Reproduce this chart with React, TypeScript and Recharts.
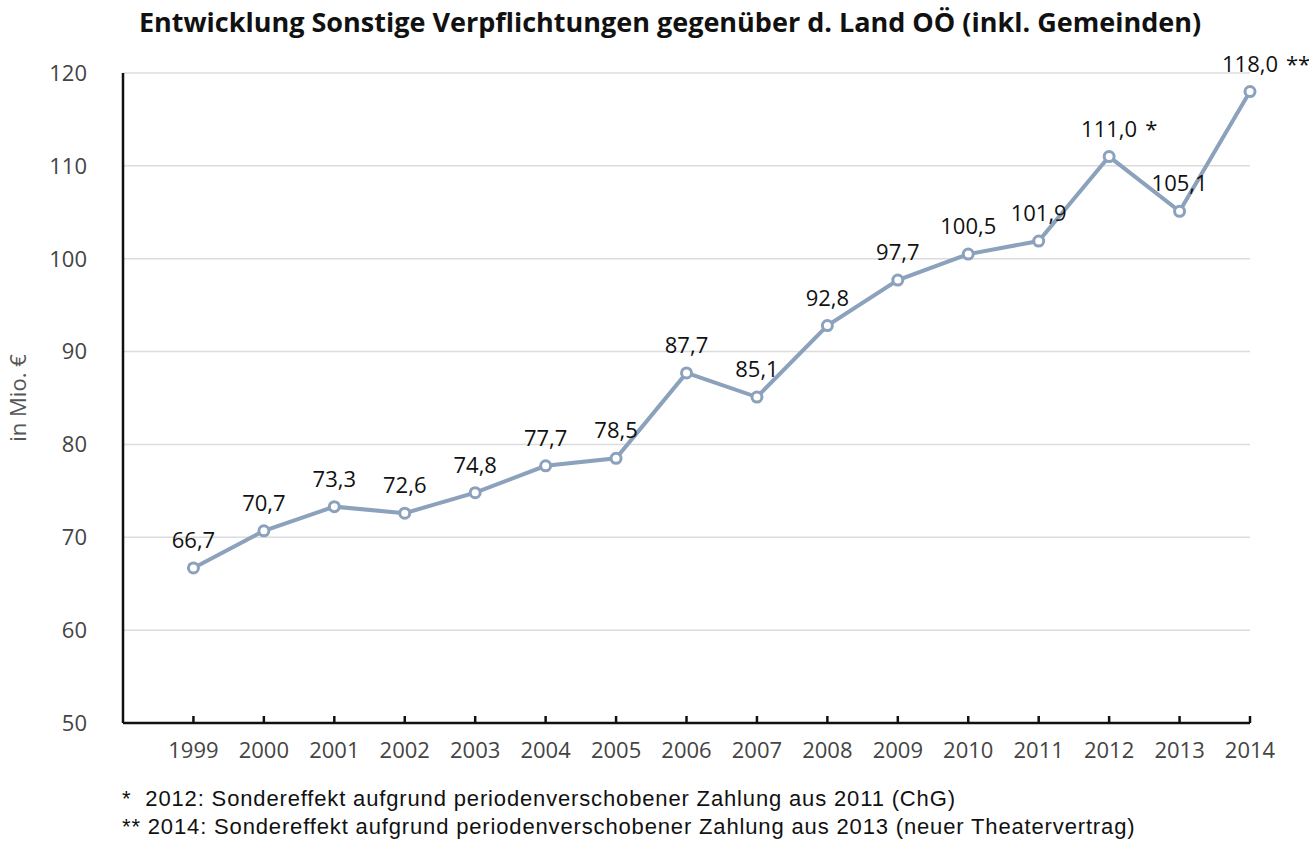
import { LineChart, Line, XAxis, YAxis, CartesianGrid, LabelList } from "recharts";

const years = [1999, 2000, 2001, 2002, 2003, 2004, 2005, 2006, 2007, 2008, 2009, 2010, 2011, 2012, 2013, 2014];
const values = [66.7, 70.7, 73.3, 72.6, 74.8, 77.7, 78.5, 87.7, 85.1, 92.8, 97.7, 100.5, 101.9, 111.0, 105.1, 118.0];
const marks = ["", "", "", "", "", "", "", "", "", "", "", "", "", "*", "", "**"];
const yTicks = [50, 60, 70, 80, 90, 100, 110, 120];

const data = years.map((year, i) => ({ year, value: values[i], mark: marks[i] }));

const lineColor = "#8ba1bc";
const font = "'Open Sans', 'Noto Sans', sans-serif";

function XTick(props: any) {
  const { x, y, payload } = props;
  return (
    <g>
      <line x1={x} x2={x} y1={y - 7} y2={y} stroke="#111" strokeWidth={2.5} />
      <text x={x} y={y + 35} textAnchor="middle" fontSize={22} fill="#444" fontFamily={font}>
        {payload.value}
      </text>
    </g>
  );
}

function ValueLabel(props: any) {
  const { x, y, value, index } = props;
  const mark = marks[index];
  const txt = value.toFixed(1).replace(".", ",");
  return (
    <g>
      <text x={x} y={y - 20} textAnchor="middle" fontSize={22} fill="#111" fontFamily={font}>
        {txt}
      </text>
      {mark && (
        <text x={x + 36} y={y - 20} textAnchor="start" fontSize={22} fill="#111" fontFamily={font}>
          {mark}
        </text>
      )}
    </g>
  );
}

export default function App() {
  return (
    <div style={{ position: "absolute", left: 0, top: 0, width: 1309, height: 841, background: "#fff" }}>
      <div
        style={{
          position: "absolute",
          left: 0,
          top: 3,
          width: 1340,
          textAlign: "center",
          fontFamily: font,
          fontWeight: 700,
          fontSize: 27,
          color: "#111",
        }}
      >
        Entwicklung Sonstige Verpflichtungen gegenüber d. Land OÖ (inkl. Gemeinden)
      </div>
      <LineChart width={1309} height={841} data={data} margin={{ top: 73, right: 59, bottom: 0, left: 63 }}>
        <CartesianGrid vertical={false} stroke="#dcdcdc" strokeWidth={1.5} />
        <XAxis
          dataKey="year"
          type="number"
          domain={[1998, 2014]}
          ticks={years}
          interval={0}
          axisLine={{ stroke: "#111", strokeWidth: 2.5 }}
          tickLine={false}
          tickSize={0}
          tickMargin={0}
          tick={<XTick />}
          height={118}
        />
        <YAxis
          domain={[50, 120]}
          ticks={yTicks}
          width={60}
          axisLine={{ stroke: "#111", strokeWidth: 2.5 }}
          tickLine={false}
          tickMargin={30}
          tick={{ fontSize: 22, fill: "#444", fontFamily: font }}
          label={{
            value: "in Mio. €",
            angle: -90,
            position: "insideLeft",
            dx: -50,
            style: { fontSize: 22, fill: "#555", fontFamily: font, textAnchor: "middle" },
          }}
        />
        <Line
          type="linear"
          dataKey="value"
          stroke={lineColor}
          strokeWidth={4}
          dot={{ r: 5, fill: "#fff", stroke: lineColor, strokeWidth: 3 }}
          isAnimationActive={false}
        >
          <LabelList dataKey="value" content={<ValueLabel />} />
        </Line>
      </LineChart>
      <div
        style={{
          position: "absolute",
          left: 122,
          top: 785,
          fontFamily: "'Liberation Sans', Arial, sans-serif",
          fontSize: 22,
          letterSpacing: 0.85,
          lineHeight: "28px",
          color: "#111",
          whiteSpace: "pre",
        }}
      >
        <div>{"*  2012: Sondereffekt aufgrund periodenverschobener Zahlung aus 2011 (ChG)"}</div>
        <div>{"** 2014: Sondereffekt aufgrund periodenverschobener Zahlung aus 2013 (neuer Theatervertrag)"}</div>
      </div>
    </div>
  );
}
